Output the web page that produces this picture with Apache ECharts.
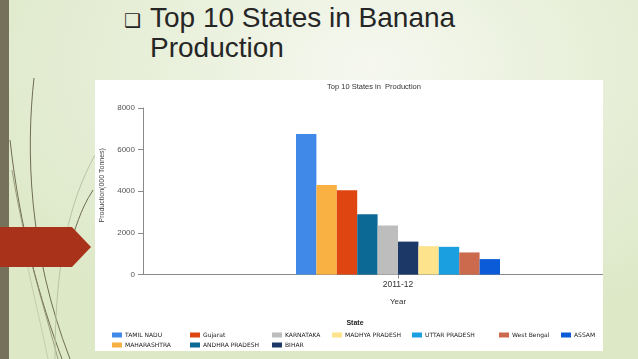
<!DOCTYPE html>
<html>
<head>
<meta charset="utf-8">
<script src="https://cdn.jsdelivr.net/npm/echarts@6/dist/echarts.min.js"></script>
<style>
  html, body { margin:0; padding:0; }
  #slide { position:relative; width:638px; height:359px; overflow:hidden;
    background: radial-gradient(ellipse 70% 80% at 58% 18%, #f6f8f0 0%, #e9f0db 45%, #dde8c7 100%); }
  #strip { position:absolute; left:0; top:0; width:9px; height:359px; background:#76715a; }
  #arrow { position:absolute; left:0; top:227px; width:91px; height:40px; background:#a9331a;
    clip-path: polygon(0 0, 72px 0, 91px 20px, 72px 40px, 0 40px); }
  #title { position:absolute; left:124px; top:3px; font-family:"Liberation Sans", Arial, sans-serif;
    font-size:28px; line-height:30px; color:#262626; }
  #title .b { font-family:"DejaVu Sans"; font-size:19px; position:absolute; left:0; top:2px; }
  #title .t { margin-left:26px; white-space:nowrap; }
  #box { position:absolute; left:95px; top:80px; width:508px; height:271px; background:#fff; overflow:hidden; }
  #chart { position:absolute; left:0; top:0; width:560px; height:271px; }
  svg { position:absolute; left:0; top:0; }
</style>
</head>
<body>
<div id="slide">
  <svg width="638" height="359">
    <path d="M34 78 C 26 150, 28 250, 70 359" stroke="#6f6d52" stroke-width="1" fill="none"/>
    <path d="M10 140 C 20 230, 40 300, 62 359" stroke="#6f6d52" stroke-width="1" fill="none"/>
    <path d="M12 170 C 25 250, 45 310, 58 359" stroke="#8a8a6a" stroke-width="0.8" fill="none"/>
    <path d="M95 155 C 70 200, 55 260, 55 359" stroke="#b9c4a3" stroke-width="1" fill="none"/>
    <path d="M93 190 C 80 210, 75 230, 70 245" stroke="#6f6d52" stroke-width="1" fill="none"/>
    <path d="M20 230 C 30 280, 40 320, 48 359" stroke="#c4cdb0" stroke-width="1" fill="none"/>
  </svg>
  <div id="strip"></div>
  <div id="arrow"></div>
  <div id="title"><span class="b">&#x2751;</span><div class="t">Top 10 States in Banana</div><div class="t">Production</div></div>
  <div id="box"><div id="chart"></div></div>
</div>
<script>
// ---- data ----
const years = ['2011-12'];
const states = ['TAMIL NADU', 'MAHARASHTRA', 'Gujarat', 'ANDHRA PRADESH', 'KARNATAKA',
                'BIHAR', 'MADHYA PRADESH', 'UTTAR PRADESH', 'West Bengal', 'ASSAM'];
const production = [6750, 4300, 4050, 2900, 2350, 1580, 1360, 1330, 1060, 740];
const yTickValues = [0, 2000, 4000, 6000, 8000];

// ---- styles / layout ----
const colors = ['#4189e9', '#f8b142', '#df4511', '#0c6995', '#bdbdbd',
                '#1b3866', '#fde38b', '#1a9fe1', '#cc6a4d', '#0b5ad8'];
// legend slots: [left, top] (column-major, 2 rows)
const legendSlots = [[17, 252], [17, 262], [95, 252], [95, 262], [177, 252],
                     [177, 262], [237, 252], [317, 252], [404, 252], [466, 252]];

const chart = echarts.init(document.getElementById('chart'), null, { renderer: 'canvas' });
const font = '"Liberation Sans", Arial, sans-serif';

const option = {
  animation: false,
  title: [
    { text: 'Top 10 States in  Production', left: 279, top: 3, textAlign: 'center', padding: 0,
      textStyle: { fontFamily: font, fontSize: 7.5, fontWeight: 'normal', color: '#333' } },
    { text: 'State', left: 260, top: 240, textAlign: 'center', padding: 0,
      textStyle: { fontFamily: font, fontSize: 7, fontWeight: 'bold', color: '#222' } }
  ],
  grid: { left: 48, right: 2, top: 28, bottom: 76.5, containLabel: false, outerBoundsMode: 'none' },
  xAxis: {
    type: 'category', data: years,
    name: 'Year', nameLocation: 'middle', nameGap: 23,
    nameTextStyle: { fontFamily: font, fontSize: 8, color: '#333' },
    axisLine: { lineStyle: { color: '#8a8a8a', width: 1 } },
    axisTick: { show: true, alignWithLabel: true, length: 4, lineStyle: { color: '#8a8a8a' } },
    axisLabel: { fontFamily: font, fontSize: 8.5, color: '#333', margin: 6 }
  },
  yAxis: {
    type: 'value', min: yTickValues[0], max: yTickValues[yTickValues.length - 1], interval: 2000,
    name: 'Production(000 Tonnes)', nameLocation: 'middle', nameGap: 37,
    nameTextStyle: { fontFamily: font, fontSize: 7, color: '#444', padding: [0, 0, 0, 12] },
    axisLine: { show: true, lineStyle: { color: '#8a8a8a', width: 1 } },
    axisTick: { show: true, length: 5, lineStyle: { color: '#8a8a8a' } },
    axisLabel: { fontFamily: font, fontSize: 8, color: '#555', margin: 8, formatter: v => String(v) },
    splitLine: { show: false }
  },
  legend: states.map((s, i) => ({
    data: [s], left: legendSlots[i][0], top: legendSlots[i][1], padding: 0,
    itemWidth: 10, itemHeight: 5, itemGap: 0, icon: 'rect', selectedMode: false,
    textStyle: { fontFamily: '"DejaVu Sans", sans-serif', fontSize: 6, color: '#1a1a1a', padding: [0, 0, 0, -2] }
  })),
  series: states.map((s, i) => ({
    name: s, type: 'bar', data: [production[i]],
    barGap: '0%', barCategoryGap: '60%',
    itemStyle: { color: colors[i] }
  }))
};
chart.setOption(option);
</script>
</body>
</html>
